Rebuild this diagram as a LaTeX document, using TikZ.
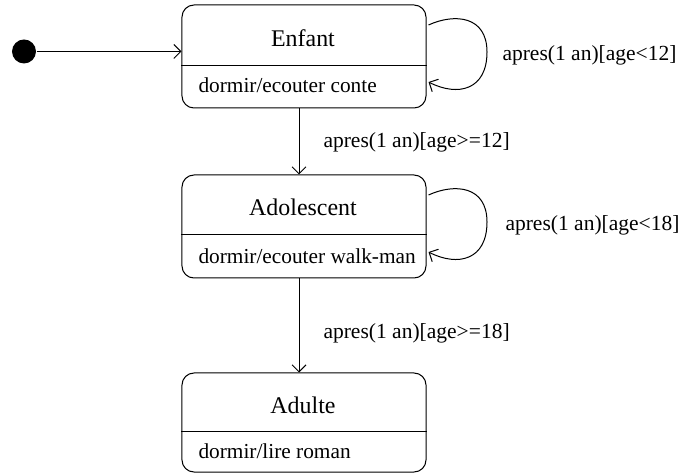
\documentclass[tikz,border=0pt]{standalone}
\usepackage{fontspec}
\setmainfont{Liberation Serif}
\newfontfamily\statefont{Liberation Serif}
\usetikzlibrary{arrows.meta,calc}
\tikzset{
  statebox/.style={draw, rounded corners=6bp, minimum width=122bp, inner sep=0pt},
  titletext/.style={inner sep=0pt, font=\statefont\fontsize{12}{14}\selectfont},
  acttext/.style={inner sep=0pt, anchor=west, font=\statefont\fontsize{10.7}{13}\selectfont},
  translabel/.style={inner sep=0pt, anchor=west, font=\statefont\fontsize{10.8}{13}\selectfont},
  trans/.style={-{Straight Barb[length=3.5bp,width=7bp]}},
  every path/.style={line width=0.5bp}
}
\begin{document}
\begin{tikzpicture}[x=0.5bp, y=-0.5bp]
\useasboundingbox (0,0) rectangle (685,475);

% initial pseudo-state
\node[circle, fill=black, minimum size=12bp, inner sep=0pt] (init) at (24,51.5) {};

% states
\node[statebox, minimum height=51.5bp] (enfant) at (304,56.5) {};
\node[statebox, minimum height=51.5bp] (ado) at (304,226.5) {};
\node[statebox, minimum height=49.5bp] (adulte) at (304,422.5) {};

% compartment separators
\draw (enfant.west |- 0,66) -- (enfant.east |- 0,66);
\draw (ado.west |- 0,235) -- (ado.east |- 0,235);
\draw (adulte.west |- 0,432) -- (adulte.east |- 0,432);

% state names and internal activities
\node[titletext] (enfantT) at (303,38) {Enfant};
\node[acttext] (enfantA) at (198,85) {dormir/ecouter conte};
\node[titletext] (adoT) at (303,207) {Adolescent};
\node[acttext] (adoA) at (198,256) {dormir/ecouter walk-man};
\node[titletext] (adulteT) at (303,405) {Adulte};
\node[acttext] (adulteA) at (198,451) {dormir/lire roman};

% transitions
\draw[trans] (init) -- (enfant.west |- init);
\draw[trans] ([xshift=-2.5bp]enfant.south) -- ([xshift=-2.5bp]ado.north);
\draw[trans] ([xshift=-2.5bp]ado.south) -- ([xshift=-2.5bp]adulte.north);

\coordinate (e1) at ($(enfant.east)+(2,-31.5)$);
\coordinate (e2) at ($(enfant.east)+(2,25.5)$);
\draw[trans] (e1) .. controls (455,13) and (487,16) .. (487,52)
  .. controls (487,90) and (458,97) .. (e2);

\coordinate (a1) at ($(ado.east)+(2,-31.5)$);
\coordinate (a2) at ($(ado.east)+(2,25.5)$);
\draw[trans] (a1) .. controls (455,183) and (487,186) .. (487,222)
  .. controls (487,260) and (458,267) .. (a2);

% transition labels
\node[translabel] (l1) at (502,55) {apres(1 an)[age<12]};
\node[translabel] (l2) at (323,142) {apres(1 an)[age>=12]};
\node[translabel] (l3) at (505,225) {apres(1 an)[age<18]};
\node[translabel] (l4) at (323,333) {apres(1 an)[age>=18]};
\end{tikzpicture}
\end{document}
